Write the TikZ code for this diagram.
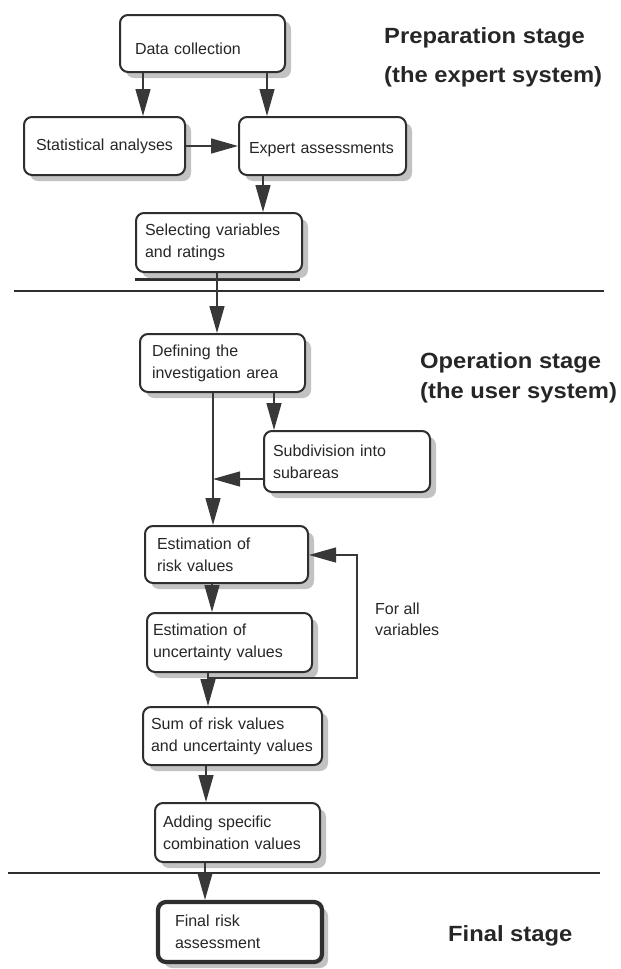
\documentclass[tikz,border=0pt]{standalone}
\usepackage{fontspec}
\setmainfont{Liberation Sans}
\newfontfamily\stagefont[FakeStretch=1.08]{Liberation Sans}
\usetikzlibrary{arrows.meta,shadows}
\definecolor{linec}{HTML}{2E2E2E}
\definecolor{arrowc}{HTML}{383838}
\definecolor{shadowc}{HTML}{C2C2C2}
\definecolor{txt}{HTML}{262626}
\begin{document}
\begin{tikzpicture}[x=1pt,y=-1pt,
  box/.style={draw=linec, line width=2pt, rounded corners=8pt, fill=white,
    inner xsep=0pt, inner ysep=0pt, align=left, text=txt,
    font=\fontsize{16}{22}\selectfont,
    drop shadow={shadow xshift=6pt, shadow yshift=-6pt, fill=shadowc, opacity=1}},
  arr/.style={draw=arrowc, line width=1.3pt, -{Triangle[length=27pt,width=15pt]}},
  sep/.style={draw=linec, line width=1.1pt},
  stage/.style={anchor=base west, inner sep=0pt, text=txt, font=\stagefont\bfseries\fontsize{22}{26}\selectfont},
  note/.style={anchor=base west, inner sep=0pt, text=txt, font=\fontsize{16}{22}\selectfont}
]
\useasboundingbox (0,0) rectangle (621,969);

% column coordinates
\coordinate (c143) at (143,0);
\coordinate (c267) at (267,0);
\coordinate (c263) at (263,0);
\coordinate (c217) at (217,0);
\coordinate (c274) at (274,0);
\coordinate (c213) at (213,0);
\coordinate (c212) at (212,0);
\coordinate (c208) at (208,0);
\coordinate (c206) at (206,0);
\coordinate (c205) at (205,0);

% separators
\draw[sep] (14,291) -- (604,291);
\draw[sep] (8,873) -- (600,873);
\draw[draw=linec, line width=3pt] (135,279) -- (300,279);

% boxes
\node[box, minimum width=165pt, minimum height=57pt, text width=135pt] (data) at (202.5,43.5) {\raisebox{-5pt}[\height][\depth]{Data collection}};
\node[box, minimum width=161pt, minimum height=58pt, text width=137pt] (stat) at (104.5,146) {Statistical analyses};
\node[box, minimum width=167pt, minimum height=58pt, text width=147pt] (expert) at (322.5,146) {\raisebox{-4pt}[\height][\depth]{Expert assessments}};
\node[box, minimum width=166pt, minimum height=59pt, text width=148pt] (select) at (219,242.5) {Selecting variables\\and ratings};
\node[box, minimum width=165pt, minimum height=58pt, text width=141pt] (define) at (222.5,363) {Defining the\\investigation area};
\node[box, minimum width=166pt, minimum height=61pt, text width=148pt] (subdiv) at (347,461.5) {Subdivision into\\subareas};
\node[box, minimum width=163pt, minimum height=57pt, text width=139pt] (risk) at (226.5,554.5) {Estimation of\\risk values};
\node[box, minimum width=165pt, minimum height=59pt, text width=153pt] (uncert) at (229.5,642.5) {Estimation of\\uncertainty values};
\node[box, minimum width=179pt, minimum height=58pt, text width=163pt] (sum) at (232.5,736) {Sum of risk values\\and uncertainty values};
\node[box, minimum width=165pt, minimum height=59pt, text width=149pt] (adding) at (237.5,832.5) {Adding specific\\combination values};
\node[box, line width=4.2pt, minimum width=164pt, minimum height=60pt, text width=130pt] (final) at (240,932) {Final risk\\assessment};

% stage labels
\node[stage] (prep1) at (384,43) {Preparation stage};
\node[stage] (prep2) at (384,82) {(the expert system)};
\node[stage] (oper1) at (420,368) {Operation stage};
\node[stage] (oper2) at (420,398) {(the user system)};
\node[stage] (fin) at (448,941) {Final stage};

% loop label
\node[note] (for1) at (375,614) {For all};
\node[note] (for2) at (375,635) {variables};

% junctions
\coordinate (j1) at (213,479);
\coordinate (j2) at (208,678);
\coordinate (lpTop) at (357,555);

% connectors
\draw[arr] (data.south -| c143) -- (stat.north -| c143);
\draw[arr] (data.south -| c267) -- (expert.north -| c267);
\draw[arr] (stat.east) -- (expert.west);
\draw[arr] (expert.south -| c263) -- (select.north -| c263);
\draw[arr] (select.south -| c217) -- (define.north -| c217);
\draw[arr] (define.south -| c274) -- (subdiv.north -| c274);
\draw[arr] (define.south -| c213) -- (risk.north -| c213);
\draw[arr] (subdiv.west |- j1) -- (j1);
\draw[arr] (risk.south -| c212) -- (uncert.north -| c212);
\draw[arr] (uncert.south -| c208) -- (sum.north -| c208);
\draw[arr] (j2) -| (lpTop) -- (lpTop -| risk.east);
\draw[arr] (sum.south -| c206) -- (adding.north -| c206);
\draw[arr] (adding.south -| c205) -- (final.north -| c205);
\end{tikzpicture}
\end{document}
